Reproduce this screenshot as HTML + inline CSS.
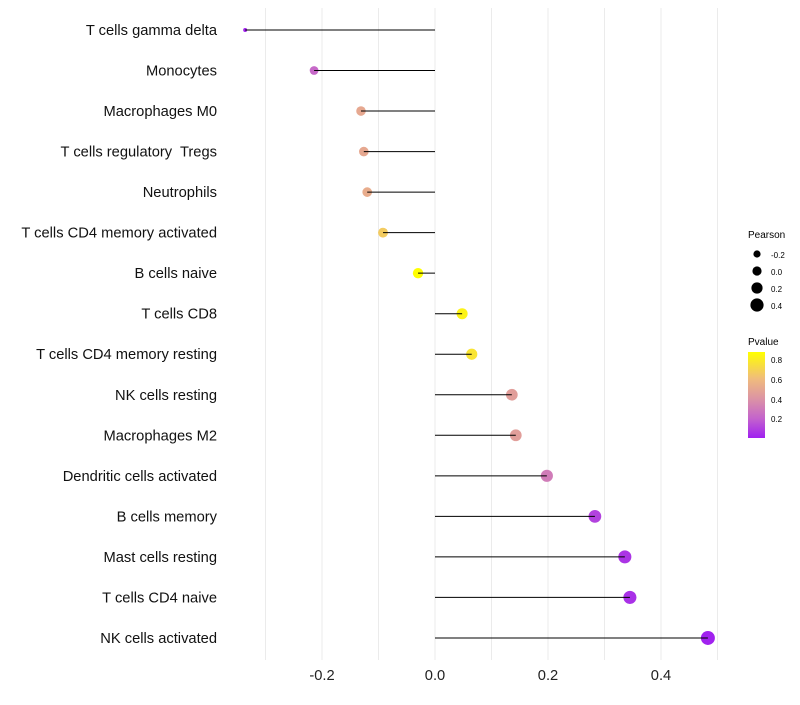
<!DOCTYPE html>
<html><head><meta charset="utf-8"><style>
body{margin:0;background:#fff;font-family:"Liberation Sans",sans-serif}
text{white-space:pre}
</style></head><body>
<svg id="chart" width="800" height="700" xmlns="http://www.w3.org/2000/svg" font-family="Liberation Sans, sans-serif">
<defs><linearGradient id="pg" x1="0" y1="1" x2="0" y2="0">
<stop offset="0" stop-color="#a020f0"/><stop offset="0.23" stop-color="#c464cc"/><stop offset="0.46" stop-color="#dc94a4"/><stop offset="0.69" stop-color="#f0bc7c"/><stop offset="1" stop-color="#ffff00"/>
</linearGradient></defs>
<g id="grid"></g><g id="marks"></g><g id="labels"></g>
<g>
<text x="748" y="238" font-size="10">Pearson</text>
<circle cx="757" cy="254" r="3.6"/><text x="771" y="258" font-size="8">-0.2</text>
<circle cx="757" cy="271" r="4.6"/><text x="771" y="275" font-size="8">0.0</text>
<circle cx="757" cy="288" r="5.6"/><text x="771" y="292" font-size="8">0.2</text>
<circle cx="757" cy="305" r="6.6"/><text x="771" y="309" font-size="8">0.4</text>
</g>
<g>
<text x="748" y="345" font-size="10">Pvalue</text>
<rect x="748" y="352" width="17" height="86" fill="url(#pg)"/>
<text x="771" y="363" font-size="8">0.8</text>
<text x="771" y="383" font-size="8">0.6</text>
<text x="771" y="403" font-size="8">0.4</text>
<text x="771" y="422" font-size="8">0.2</text>
</g>
</svg>
<script>
const categories=["T cells gamma delta","Monocytes","Macrophages M0","T cells regulatory  Tregs","Neutrophils","T cells CD4 memory activated","B cells naive","T cells CD8","T cells CD4 memory resting","NK cells resting","Macrophages M2","Dendritic cells activated","B cells memory","Mast cells resting","T cells CD4 naive","NK cells activated"];
const pearson=[-0.336,-0.214,-0.131,-0.126,-0.120,-0.092,-0.030,0.048,0.065,0.136,0.143,0.198,0.283,0.336,0.345,0.483];
const pvalues=[0.01,0.22,0.5,0.5,0.52,0.66,0.88,0.82,0.76,0.45,0.45,0.3,0.1,0.06,0.05,0.005];
const xTicks=[-0.2,0,0.2,0.4];
const xTickLabels=["-0.2","0.0","0.2","0.4"];
const NS="http://www.w3.org/2000/svg";
const x=v=>435+v*565;
const y=i=>30+i*40.53;
const r=v=>{const t=(v+0.336)/0.82;return t<0.05?2:Math.sqrt(14+t*35);};
const stops=[[0,[160,32,240]],[0.2,[196,100,204]],[0.4,[220,148,164]],[0.6,[240,188,124]],[0.87,[255,255,0]]];
function col(p){let a=stops[0],b=stops[stops.length-1];if(p<=a[0])return `rgb(${a[1]})`;if(p>=b[0])return `rgb(${b[1]})`;
for(let k=0;k<stops.length-1;k++){if(p>=stops[k][0]&&p<=stops[k+1][0]){a=stops[k];b=stops[k+1];break;}}
const t=(p-a[0])/(b[0]-a[0]);return `rgb(${a[1].map((c,j)=>Math.round(c+(b[1][j]-c)*t)).join(',')})`;}
function mk(t,at,parent){const e=document.createElementNS(NS,t);for(const k in at)e.setAttribute(k,at[k]);document.getElementById(parent).appendChild(e);return e;}
for(let g=-0.3;g<=0.51;g+=0.1){
const l=mk('line',{x1:x(g),x2:x(g),y1:8,y2:660,stroke:'#ebebeb','stroke-width':1},'grid');

}
xTicks.forEach((t,i)=>{const e=mk('text',{x:x(t),y:680,'font-size':14.7,'text-anchor':'middle',fill:'#222'},'labels');e.textContent=xTickLabels[i];

});
categories.forEach((c,i)=>{
const t=mk('text',{x:217,y:y(i)+5,'font-size':14.7,'text-anchor':'end',fill:'#111'},'labels');t.textContent=c;


const p=mk('circle',{cx:x(pearson[i]),cy:y(i),r:r(pearson[i]),fill:col(pvalues[i])},'marks');


const l=mk('line',{x1:x(0),x2:x(pearson[i]),y1:y(i),y2:y(i),stroke:'#000','stroke-width':1},'marks');


});
</script>
</body></html>
